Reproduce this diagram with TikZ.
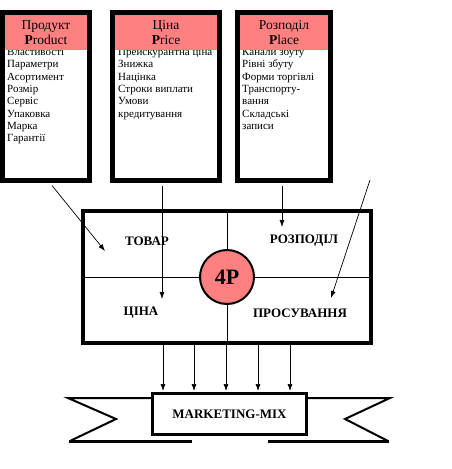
\documentclass[tikz,border=0pt]{standalone}
\usepackage{fontspec}
\setmainfont{Liberation Serif}
\usetikzlibrary{arrows.meta,calc}
\definecolor{pinkh}{RGB}{255,128,128}
\newcommand{\itl}[1]{\hbox{#1}}
\begin{document}
\begin{tikzpicture}[x=1pt,y=-1pt,
  pbox/.style={draw,line width=5pt,inner sep=0pt},
  hdr/.style={fill=pinkh,inner sep=0pt,align=center,font=\fontsize{13.5}{15}\selectfont},
  items/.style={anchor=base west,inner sep=0pt,font=\fontsize{11}{12.3}\selectfont},
  lbl/.style={inner sep=0pt,font=\fontsize{13}{15}\selectfont\bfseries},
  arr/.style={line width=0.7pt,-{Latex[length=7pt,width=5pt]}},
  rib/.style={line width=2pt,line join=miter}]
\useasboundingbox (0,0) rectangle (451,469);

% item lists (drawn first, headers clip the first line)
\node[items] (i1) at (7,55.5) {\vtop{\baselineskip=12.3pt
  \itl{Властивості}\itl{Параметри}\itl{Асортимент}\itl{Розмір}\itl{Сервіс}\itl{Упаковка}\itl{Марка}\itl{Гарантії}}};
\node[items] (i2) at (118,55.5) {\vtop{\baselineskip=12.3pt
  \itl{Прейскурантна ціна}\itl{Знижка}\itl{Націнка}\itl{Строки виплати}\itl{Умови}\itl{кредитування}}};
\node[items] (i3) at (242,55.5) {\vtop{\baselineskip=12.3pt
  \itl{Канали збуту}\itl{Рівні збуту}\itl{Форми торгівлі}\itl{Транспорту-}\itl{вання}\itl{Складські}\itl{записи}}};

% headers
\node[hdr,minimum width=82pt,minimum height=35pt] (h1) at (46,32.5) {Продукт\\\textbf{P}roduct};
\node[hdr,minimum width=102pt,minimum height=35pt] (h2) at (166,32.5) {Ціна\\\textbf{P}rice};
\node[hdr,minimum width=88pt,minimum height=35pt] (h3) at (284,32.5) {Розподіл\\\textbf{P}lace};

% frames
\node[pbox,minimum width=87pt,minimum height=168pt] (prod) at (46,96.5) {};
\node[pbox,minimum width=107pt,minimum height=168pt] (price) at (166,96.5) {};
\node[pbox,minimum width=93pt,minimum height=168pt] (place) at (284,96.5) {};

% main rectangle
\node[draw,line width=4pt,inner sep=0pt,minimum width=288pt,minimum height=132pt] (main) at (227,277) {};
\draw[line width=0.8pt] (main.north) -- (main.south);
\draw[line width=0.8pt] (main.west) -- (main.east);
\node[circle,draw,line width=2pt,fill=pinkh,inner sep=0pt,minimum size=54pt,
      font=\fontsize{22}{24}\selectfont\bfseries] (p4) at (227,277) {4P};

\node[lbl] (tovar) at (147,241) {ТОВАР};
\node[lbl] (rozp) at (304,241) {РОЗПОДІЛ};
\node[lbl] (tsina) at (141,313) {ЦІНА};
\node[lbl] (pros) at (300,313) {ПРОСУВАННЯ};

% arrows from the boxes
\coordinate (a1) at (105,251);
\coordinate (a2) at (162,299);
\coordinate (a3) at (282,227);
\coordinate (s4) at (370,180);
\coordinate (a4) at (331,298);
\draw[arr] ($(prod.south)+(6,2.5)$) -- (a1);
\draw[arr] ($(price.south)+(-4,2.5)$) -- (a2);
\draw[arr] ($(place.south)+(-2,2.5)$) -- (a3);
\draw[arr] (s4) -- (a4);

% ribbon
\draw[rib] (151,398) -- (68,398) -- (116,419) -- (70,441);
\draw[line width=3pt] (69,441) -- (192,441);
\draw[rib] (308,398) -- (390,398) -- (345,419) -- (388,441);
\draw[line width=3pt] (389,441) -- (268,441);

% marketing-mix box
\node[draw,line width=3pt,fill=white,inner sep=0pt,minimum width=154pt,minimum height=41pt,
      font=\fontsize{13}{15}\selectfont\bfseries] (mm) at (229.5,414) {MARKETING-MIX};

% arrows down to marketing-mix
\foreach \xx in {163,194,226,258,290}{
  \draw[arr,shorten >=1pt] (main.south -| \xx,0) -- (mm.north -| \xx,0);
}
\end{tikzpicture}
\end{document}
